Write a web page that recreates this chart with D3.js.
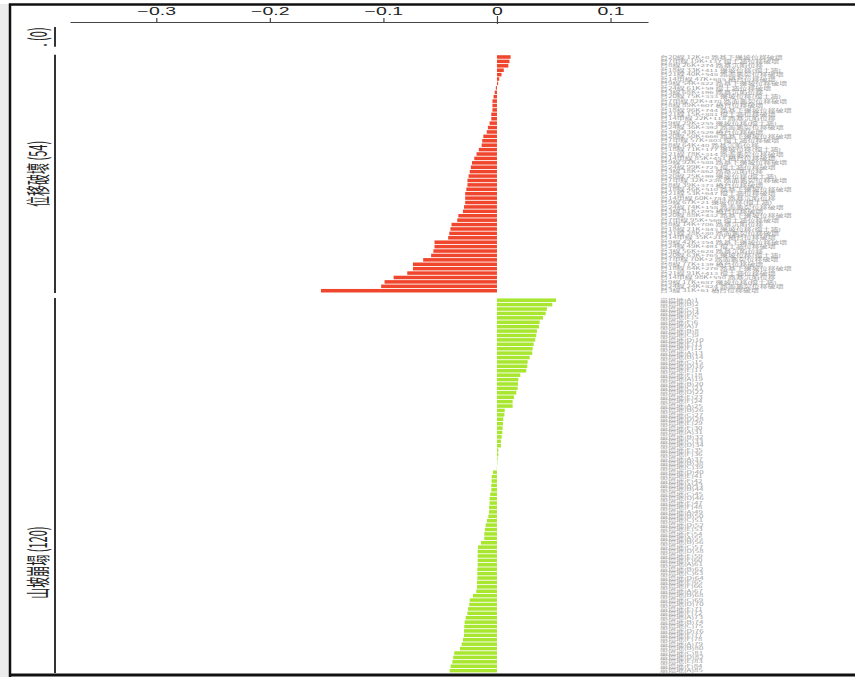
<!DOCTYPE html>
<html>
<head>
<meta charset="utf-8">
<script src="https://cdn.jsdelivr.net/npm/d3@7"></script>
<style>
  html, body { margin: 0; padding: 0; background: #ffffff; }
  svg { display: block; }
</style>
</head>
<body>
<svg id="chart" width="855" height="677"></svg>
<script>
// ---- data ----------------------------------------------------------------
const groupNames = [".", "位移破壞", "山坡崩塌"];
const tickValues = [-0.3, -0.2, -0.1, 0, 0.1];

// 位移破壞 (54) — sorted scores, top to bottom
const displacementValues = [
  0.012, 0.011, 0.010, 0.006, 0.004, 0.002, 0.001, -0.001, -0.002, -0.003,
  -0.004, -0.004, -0.004, -0.005, -0.005, -0.0065, -0.008, -0.009, -0.012, -0.013,
  -0.0135, -0.016, -0.018, -0.020, -0.022, -0.023, -0.024, -0.025, -0.026, -0.026,
  -0.027, -0.028, -0.028, -0.028, -0.029, -0.030, -0.034, -0.035, -0.040, -0.041,
  -0.042, -0.043, -0.055, -0.055, -0.056, -0.058, -0.065, -0.074, -0.074, -0.079,
  -0.091, -0.099, -0.102, -0.155
];

// 山坡崩塌 (120) — sorted scores, top to bottom
const landslideValues = [
  0.052, 0.0487, 0.044, 0.0429, 0.0405, 0.0376, 0.037, 0.0352, 0.0346, 0.0337,
  0.0323, 0.0314, 0.0311, 0.0288, 0.027, 0.0267, 0.0258, 0.0205, 0.0188, 0.0185,
  0.0182, 0.017, 0.015, 0.0138, 0.0138, 0.0068, 0.0065, 0.0056, 0.0053, 0.005,
  0.0047, 0.0041, 0.0035, 0.0035, 0.0012, 0.0012, 0.0006, 0.0003, -0.0002, -0.0035,
  -0.0047, -0.0047, -0.005, -0.005, -0.0059, -0.0065, -0.0065, -0.007, -0.007, -0.0076,
  -0.0088, -0.010, -0.0106, -0.0112, -0.0112, -0.0141, -0.0167, -0.017, -0.017, -0.017,
  -0.017, -0.0173, -0.0173, -0.0173, -0.0176, -0.0176, -0.0182, -0.0211, -0.024, -0.0244,
  -0.0255, -0.0261, -0.0276, -0.0285, -0.0288, -0.029, -0.029, -0.030, -0.0311, -0.0326,
  -0.0376, -0.0385, -0.0393, -0.0408, -0.0417, -0.043, -0.044, -0.046, -0.047, -0.049,
  -0.051, -0.052, -0.054, -0.056, -0.058, -0.060, -0.062, -0.064, -0.067, -0.069,
  -0.072, -0.075, -0.078, -0.081, -0.084, -0.088, -0.092, -0.096, -0.101, -0.106,
  -0.112, -0.119, -0.127, -0.136, -0.147, -0.160, -0.178, -0.201, -0.236, -0.295
];

// row labels
const roadNames = ["台20線", "台7甲線", "台8線", "台18線", "台21線", "台14甲線", "台9線", "台24線", "台3線"];
const damageTypes = ["路基下邊坡位移破壞", "擋土牆位移破壞", "路基沉陷位移", "邊坡位移(擋土牆)", "路面龜裂位移破壞", "橋台位移破壞"];
const displacementNames = displacementValues.map((_, i) =>
  `${roadNames[i % roadNames.length]} ${12 + (i * 7) % 88}K+${(i * 137) % 900} ${damageTypes[i % damageTypes.length]}`);
const landslideNames = landslideValues.map((_, i) =>
  `崩塌地(${String.fromCharCode(65 + i % 6)})${i + 1}`);

const groups = [
  { name: groupNames[0], values: [], names: [], color: "#f0462d" },
  { name: groupNames[1], values: displacementValues, names: displacementNames, color: "#f0462d" },
  { name: groupNames[2], values: landslideValues, names: landslideNames, color: "#a8e630" }
];

// ---- layout --------------------------------------------------------------
const W = 855, H = 677;
const frameBottom = 673;
const svg = d3.select("#chart");
const rowPx = 4.41;          // height of one bar row
const emptyRows = 4.5;       // space taken by a group without rows
const gapRows = [1.8, 1.15]; // spacing between consecutive groups

let cursor = 0;
groups.forEach((g, gi) => {
  if (gi > 0) cursor += gapRows[gi - 1];
  g.start = cursor;
  g.end = cursor + (g.values.length ? g.values.length : emptyRows);
  cursor = g.end;
});
const totalRows = cursor;

const y = d3.scaleLinear().domain([0, totalRows]).range([27, 27 + totalRows * rowPx]);
const x = d3.scaleLinear().domain([-0.376, 0.133]).range([70, 648]);

// ---- frame ---------------------------------------------------------------
svg.append("rect").attr("x", 0).attr("y", 4).attr("width", 9).attr("height", H - 4)
  .attr("fill", "#ececec");

const defs = svg.append("defs");
defs.append("clipPath").attr("id", "plotClip")
  .append("rect").attr("x", 11).attr("y", 6).attr("width", W - 11).attr("height", frameBottom - 6);

const plot = svg.append("g").attr("clip-path", "url(#plotClip)");

// ---- axis ----------------------------------------------------------------
const fmt = d => d === 0 ? "0" : d3.format(".1f")(d);
const axisG = svg.append("g")
  .attr("transform", "translate(0,22)")
  .call(d3.axisTop(x).tickValues(tickValues).tickSize(4).tickSizeOuter(0).tickPadding(3).tickFormat(fmt));
axisG.select(".domain").attr("stroke", "#444").attr("stroke-width", 1.2);
axisG.selectAll(".tick line").attr("stroke", "#444").attr("stroke-width", 1.2);
axisG.selectAll(".tick").filter(d => d === 0).select("line").attr("y1", 2).attr("y2", -6);
axisG.selectAll(".tick text")
  .attr("font-family", "'Liberation Sans', Arial, sans-serif")
  .attr("font-size", 10)
  .attr("fill", "#222")
  .attr("transform", "scale(1.95,1)");

// ---- groups --------------------------------------------------------------
groups.forEach(g => {
  const gEl = plot.append("g");

  // separator line for the group
  gEl.append("line")
    .attr("x1", 55).attr("x2", 55)
    .attr("y1", y(g.start)).attr("y2", y(g.end))
    .attr("stroke", "#333").attr("stroke-width", 2);

  // rotated group label
  const cy = (y(g.start) + y(g.end)) / 2;
  gEl.append("text")
    .attr("transform", `translate(36,${cy}) scale(2.2,1) rotate(-90)`)
    .attr("text-anchor", "middle")
    .attr("dominant-baseline", "central")
    .attr("font-family", "'Noto Sans CJK TC', 'Noto Sans CJK SC', sans-serif")
    .attr("font-size", 11)
    .attr("fill", "#222")
    .text(`${g.name} (${g.values.length})`);

  // bars
  gEl.selectAll("rect.bar")
    .data(g.values)
    .join("rect")
    .attr("class", "bar")
    .attr("x", d => x(Math.min(0, d)))
    .attr("width", d => Math.abs(x(d) - x(0)))
    .attr("y", (d, i) => y(g.start + i + 0.1))
    .attr("height", y(0.8) - y(0))
    .attr("fill", g.color);

  // row labels, only for rows that fall inside the frame
  const rows = g.names.map((name, i) => ({ name, cy: y(g.start + i + 0.5) }))
    .filter(r => r.cy < frameBottom - 2);
  gEl.selectAll("text.row")
    .data(rows)
    .join("text")
    .attr("class", "row")
    .attr("transform", r => `translate(660,${r.cy}) scale(1.9,1)`)
    .attr("dominant-baseline", "central")
    .attr("font-family", "'Noto Sans CJK TC', 'Noto Sans CJK SC', sans-serif")
    .attr("font-size", 4.2)
    .attr("fill", "#9c9c9c")
    .text(r => r.name);
});

// ---- border ----------------------------------------------------------------
svg.append("path")
  .attr("d", `M10,${H} V4.5 H${W}`)
  .attr("fill", "none").attr("stroke", "#111").attr("stroke-width", 2.5);
svg.append("line")
  .attr("x1", 10).attr("x2", W).attr("y1", 675).attr("y2", 675)
  .attr("stroke", "#111").attr("stroke-width", 3);
</script>
</body>
</html>
